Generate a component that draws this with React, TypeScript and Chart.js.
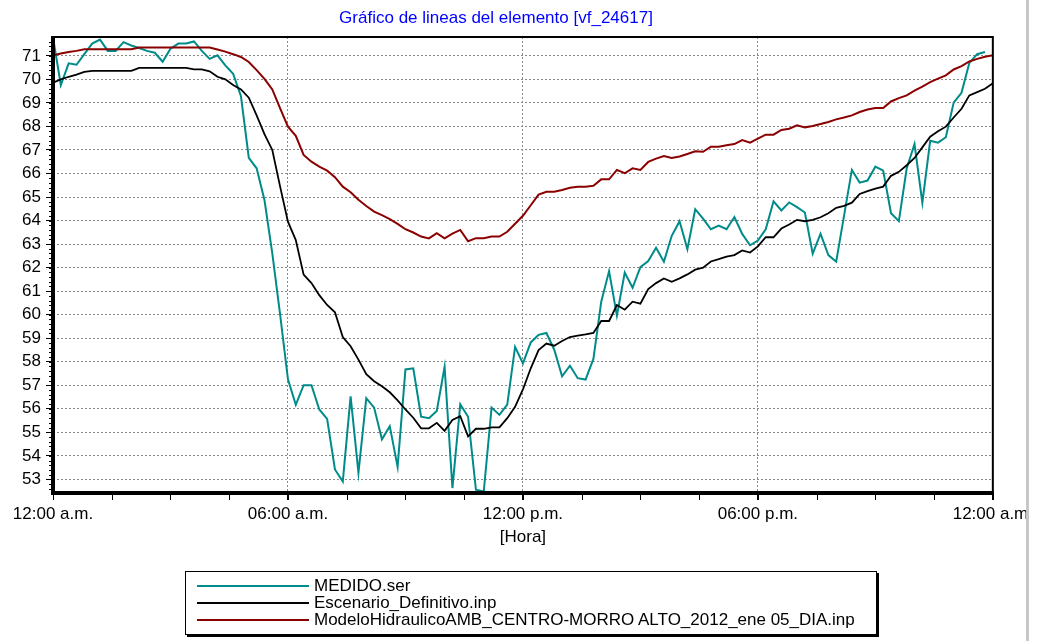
import React, { useEffect, useRef } from "react";
import { Chart, registerables } from "chart.js";

Chart.register(...registerables);

const TITLE = "Gráfico de lineas del elemento [vf_24617]";
const X_AXIS_TITLE = "[Hora]";
const X_TICK_LABELS = ["12:00 a.m.", "06:00 a.m.", "12:00 p.m.", "06:00 p.m.", "12:00 a.m."];
const SERIES_NAMES = [
  "MEDIDO.ser",
  "Escenario_Definitivo.inp",
  "ModeloHidraulicoAMB_CENTRO-MORRO ALTO_2012_ene 05_DIA.inp",
];
const SERIES_COLORS = ["#008b8b", "#000000", "#8b0000"];

// sampling interval: 12 minutes (0.2 h), 00:00 .. 24:00
const STEP_HOURS = 0.2;

const MEDIDO = [
  71.78, 69.76, 70.68, 70.62, 71.07, 71.52, 71.69, 71.21, 71.21, 71.58,
  71.44, 71.33, 71.21, 71.13, 70.75, 71.3, 71.52, 71.52, 71.61, 71.21,
  70.87, 71.02, 70.59, 70.24, 69.28, 66.66, 66.22, 64.87, 62.6, 60.0,
  57.25, 56.17, 57.0, 57.0, 55.97, 55.57, 53.42, 52.91, 56.53, 53.28,
  56.45, 56.05, 54.7, 55.26, 53.53, 57.67, 57.72, 55.66, 55.6, 55.91,
  57.78, 52.63, 56.19, 55.66, 52.56, 52.48, 56.05, 55.74, 56.18, 58.63,
  57.93, 58.82, 59.14, 59.22, 58.51, 57.38, 57.83, 57.3, 57.24, 58.12,
  60.55, 61.85, 59.96, 61.79, 61.14, 62.02, 62.28, 62.84, 62.25, 63.35,
  63.97, 62.78, 64.48, 64.08, 63.63, 63.78, 63.63, 64.15, 63.43, 62.95,
  63.15, 63.63, 64.82, 64.43, 64.77, 64.57, 64.34, 62.59, 63.44, 62.53,
  62.25, 64.2, 66.15, 65.61, 65.7, 66.29, 66.12, 64.31, 63.97, 66.21,
  67.25, 64.76, 67.39, 67.31, 67.54, 69.01, 69.43, 70.7, 71.07, 71.16,
];

const ESCENARIO = [
  69.86, 70.0, 70.11, 70.2, 70.32, 70.36, 70.36, 70.36, 70.36, 70.36,
  70.36, 70.49, 70.49, 70.49, 70.49, 70.49, 70.49, 70.49, 70.42, 70.42,
  70.34, 70.11, 70.0, 69.76, 69.57, 69.22, 68.47, 67.67, 67.0, 65.44,
  63.95, 63.17, 61.7, 61.34, 60.83, 60.41, 60.1, 59.05, 58.66, 58.09,
  57.47, 57.17, 56.96, 56.7, 56.36, 55.97, 55.62, 55.17, 55.17, 55.4,
  55.06, 55.52, 55.68, 54.83, 55.15, 55.15, 55.21, 55.21, 55.6, 56.08,
  56.82, 57.72, 58.49, 58.77, 58.68, 58.88, 59.05, 59.11, 59.16, 59.22,
  59.73, 59.73, 60.41, 60.21, 60.55, 60.47, 61.09, 61.34, 61.54, 61.4,
  61.54, 61.71, 61.91, 62.0, 62.26, 62.36, 62.47, 62.53, 62.73, 62.64,
  62.9, 63.29, 63.29, 63.66, 63.83, 64.03, 63.97, 64.03, 64.14, 64.31,
  64.54, 64.62, 64.76, 65.13, 65.25, 65.36, 65.44, 65.9, 66.07, 66.35,
  66.66, 67.11, 67.56, 67.79, 67.99, 68.38, 68.75, 69.32, 69.46, 69.6,
  69.83,
];

const MODELO = [
  71.02, 71.1, 71.16, 71.21, 71.28, 71.28, 71.28, 71.28, 71.28, 71.28,
  71.28, 71.35, 71.35, 71.35, 71.35, 71.35, 71.35, 71.35, 71.35, 71.35,
  71.35, 71.27, 71.18, 71.07, 70.95, 70.74, 70.39, 70.02, 69.57, 68.77,
  67.99, 67.6, 66.79, 66.5, 66.29, 66.12, 65.84, 65.44, 65.2, 64.88,
  64.62, 64.38, 64.23, 64.06, 63.86, 63.63, 63.49, 63.32, 63.24, 63.46,
  63.24, 63.44, 63.6, 63.12, 63.25, 63.25, 63.32, 63.32, 63.52, 63.86,
  64.2, 64.65, 65.1, 65.22, 65.22, 65.3, 65.39, 65.44, 65.44, 65.48,
  65.75, 65.75, 66.15, 66.01, 66.22, 66.15, 66.49, 66.63, 66.74, 66.66,
  66.72, 66.83, 66.94, 66.92, 67.14, 67.14, 67.2, 67.25, 67.42, 67.31,
  67.48, 67.65, 67.65, 67.85, 67.9, 68.05, 67.96, 68.02, 68.1, 68.19,
  68.3, 68.38, 68.47, 68.61, 68.72, 68.78, 68.78, 69.06, 69.2, 69.32,
  69.52, 69.69, 69.88, 70.03, 70.17, 70.42, 70.56, 70.76, 70.87, 70.96,
  71.02,
];

const Y_MIN = 52.42;
const Y_MAX = 71.8;

const FONT = '"Liberation Sans", Arial, sans-serif';

function toPoints(values: number[]) {
  return values.map((v, i) => ({ x: +(i * STEP_HOURS).toFixed(2), y: v }));
}

const decorPlugin = {
  id: "decor",
  afterDraw(chart: any) {
    const { ctx, chartArea: a, scales } = chart;
    const ys = scales.y;
    const xs = scales.x;
    ctx.save();
    // minor ticks on the y axis (every 0.2)
    ctx.strokeStyle = "#000";
    ctx.lineWidth = 1;
    ctx.beginPath();
    const start = Math.ceil(Y_MIN / 0.2);
    const end = Math.floor(Y_MAX / 0.2);
    for (let k = start; k <= end; k++) {
      const py = Math.round(ys.getPixelForValue(k * 0.2)) + 0.5;
      ctx.moveTo(a.left - 4, py);
      ctx.lineTo(a.left, py);
    }
    // minor ticks on the x axis (every 1.5 h)
    for (let k = 0; k <= 16; k++) {
      const px = Math.round(xs.getPixelForValue(k * 1.5)) + 0.5;
      ctx.moveTo(px, a.bottom);
      ctx.lineTo(px, a.bottom + 7);
    }
    ctx.stroke();
    // top & right frame
    ctx.lineWidth = 2;
    ctx.beginPath();
    ctx.moveTo(a.left, a.top);
    ctx.lineTo(a.right, a.top);
    ctx.lineTo(a.right, a.bottom);
    ctx.stroke();
    // thick axes
    ctx.lineWidth = 4;
    ctx.beginPath();
    ctx.moveTo(a.left, a.top - 1);
    ctx.lineTo(a.left, a.bottom + 2);
    ctx.moveTo(a.left - 2, a.bottom);
    ctx.lineTo(a.right + 1, a.bottom);
    ctx.stroke();
    // title
    ctx.fillStyle = "#0000ff";
    ctx.font = "17px " + FONT;
    ctx.textAlign = "center";
    ctx.textBaseline = "middle";
    ctx.fillText(TITLE, 496, 18);
    // right window edge
    ctx.fillStyle = "#ffffff";
    ctx.fillRect(1029, 0, chart.width - 1029, chart.height);
    ctx.fillStyle = "#c8c8c8";
    ctx.fillRect(1026, 0, 3, chart.height);
    ctx.restore();
  },
};

export default function App() {
  const canvasRef = useRef<HTMLCanvasElement | null>(null);

  useEffect(() => {
    if (!canvasRef.current) return;
    const seriesValues = [MEDIDO, ESCENARIO, MODELO];
    const chart = new Chart(canvasRef.current, {
      type: "line",
      data: {
        datasets: seriesValues.map((vals, i) => ({
          label: SERIES_NAMES[i],
          data: toPoints(vals),
          borderColor: SERIES_COLORS[i],
          backgroundColor: SERIES_COLORS[i],
          borderWidth: i === 1 ? 1.8 : 2,
          pointRadius: 0,
          tension: 0,
          fill: false,
        })).reverse(),
      },
      options: {
        responsive: false,
        animation: false,
        devicePixelRatio: 1,
        layout: { padding: { left: 0, top: 37, right: 43, bottom: 91 } },
        plugins: {
          legend: { display: false },
          title: { display: false },
          tooltip: { enabled: false },
        },
        scales: {
          x: {
            type: "linear",
            min: 0,
            max: 24,
            afterFit: (s: any) => {
              s.height = 57;
            },
            ticks: {
              stepSize: 6,
              includeBounds: false,
              autoSkip: false,
              maxRotation: 0,
              padding: 4,
              color: "#000",
              font: { family: FONT, size: 17 },
              callback: (v: any) => X_TICK_LABELS[Math.round(Number(v) / 6)] ?? "",
            },
            grid: {
              color: "#8a8a8a",
              lineWidth: 1,
              tickLength: 7,
              tickColor: "#000",
              tickWidth: 1,
            },
            border: { display: false, dash: [2, 2] },
            title: {
              display: true,
              text: X_AXIS_TITLE,
              color: "#000",
              font: { family: FONT, size: 17 },
              padding: { top: 0, bottom: 2 },
            },
          },
          y: {
            type: "linear",
            min: Y_MIN,
            max: Y_MAX,
            afterFit: (s: any) => {
              s.width = 53;
            },
            ticks: {
              stepSize: 1,
              includeBounds: false,
              padding: 5,
              color: "#000",
              font: { family: FONT, size: 17 },
            },
            grid: {
              color: "#8a8a8a",
              lineWidth: 1,
              tickLength: 7,
              tickColor: "#000",
              tickWidth: 1,
            },
            border: { display: false, dash: [2, 2] },
          },
        },
      },
      plugins: [decorPlugin],
    });
    return () => chart.destroy();
  }, []);

  return (
    <div
      style={{
        position: "absolute",
        left: 0,
        top: 0,
        width: 1037,
        height: 641,
        background: "#fff",
        overflow: "hidden",
      }}
    >
      <canvas ref={canvasRef} width={1037} height={641} style={{ width: 1037, height: 641, display: "block" }} />
      <div
        style={{
          position: "absolute",
          left: 185,
          top: 571,
          width: 690,
          height: 62,
          border: "1px solid #000",
          boxShadow: "2px 2px 0 #000",
          background: "#fff",
          fontFamily: FONT,
          fontSize: 17,
          color: "#000",
        }}
      >
        {SERIES_NAMES.map((name, i) => (
          <div key={name} style={{ position: "absolute", left: 0, top: 5 + i * 17, height: 17, width: "100%" }}>
            <div
              style={{
                position: "absolute",
                left: 11,
                width: 112,
                top: 8,
                height: 0,
                borderTop: `2px solid ${SERIES_COLORS[i]}`,
              }}
            />
            <span
              style={{
                position: "absolute",
                left: 128,
                top: 0,
                lineHeight: "17px",
                whiteSpace: "nowrap",
              }}
            >
              {name}
            </span>
          </div>
        ))}
      </div>
    </div>
  );
}
